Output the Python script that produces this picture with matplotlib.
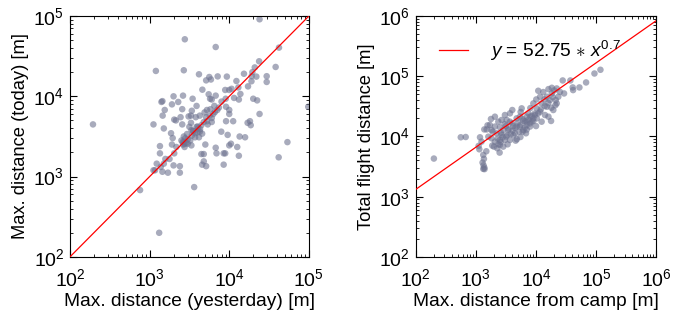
import matplotlib
matplotlib.use("Agg")
import matplotlib.pyplot as plt
import numpy as np

plt.rcParams['font.family'] = ['Liberation Sans', 'DejaVu Sans']
plt.rcParams['mathtext.fontset'] = 'custom'
plt.rcParams['mathtext.rm'] = 'Liberation Sans'
plt.rcParams['mathtext.it'] = 'Liberation Sans:italic'

# left panel: max distance yesterday vs today [m]
yesterday = [24000, 2770, 6760, 42100, 23700, 38200, 1200, 2690, 4170, 5620, 5130, 5890,
             7160, 9330, 12300, 15300, 19500, 20900, 19100, 21900, 29500, 19000, 17200,
             4600, 5520, 8900, 10700, 10000, 13000, 20000, 22400, 13800, 11500, 13200,
             9020, 5750, 6030, 6760, 2000, 2630, 3470, 1410, 1450, 1550, 1910, 2290, 3390,
             3890, 2570, 5250, 1460, 2040, 3090, 24000, 18200, 17000, 18600, 11200, 9120,
             7940, 9550, 13500, 15800, 10000, 10500, 12600, 13200, 6760, 6920, 8510, 8900,
             8510, 5010, 4470, 4790, 4790, 5130, 4570, 3630, 1120, 1510, 1860, 1950, 1910,
             2040, 2000, 2400, 2400, 1700, 1350, 1350, 1230, 1170, 1380, 1510, 1580, 1780,
             1120, 1450, 760, 195, 1320, 98000, 53700, 41700, 29500, 2140, 3160, 2570, 3310,
             3890, 4270, 2690, 2880, 3240, 2690, 2950, 3390, 3720, 4070, 4470, 4790, 5130,
             5690, 6310, 6610, 7080, 7410, 6030, 5250, 5370, 4570, 4170, 3350, 3020, 2750,
             2510, 3350, 3720, 3980, 2630, 9120, 10000, 10000, 2450, 2170,
             3310, 3800, 4270, 6030, 3550, 4900, 5800, 6500, 8000, 2800, 3000, 2600, 4000,
             4300, 3500, 2750]
today = [91000, 51300, 41100, 40400, 27300, 23200, 20700, 21100, 18800, 17400, 15800, 16200,
         17700, 17600, 15500, 19100, 20000, 22900, 17800, 17600, 17800, 15400, 13300,
         12100, 10600, 12000, 12400, 12000, 12900, 9330, 8900, 10700, 9550, 9120,
         9330, 9330, 9120, 10200, 10000, 10200, 9330, 8510, 8710, 6760, 7940, 8510, 6610,
         7590, 6920, 6760, 5750, 5130, 5620, 6030, 4900, 4680, 4370, 4900, 4900,
         3630, 3310, 3160, 3090, 2450, 2570, 2340, 1820, 2290, 1950, 1950, 1950,
         1410, 2510, 1910, 1910, 1550, 1350, 1410, 741, 4470, 3980, 3470, 3020, 2510,
         1950, 1380, 1350, 1120, 1120, 2400, 1950, 1450, 1200, 1320, 1450, 1660, 1660,
         1200, 1150, 680, 4470, 200, 7410, 2690, 1740, 15100, 5010, 4170, 4470, 4680,
         4170, 3630, 2690, 2630, 2820, 3160, 3390, 3240, 3470, 3980, 4370, 4790, 5500,
         5750, 6030, 6380, 6760, 7240, 5370, 4900, 4470, 3430, 3090, 2450, 2570, 2340,
         2820, 3800, 3090, 3550, 2510, 7410, 6760, 6030, 5500, 2340,
         5750, 5500, 5750, 4790, 3700, 6300, 6900, 7600, 8600, 3000, 2900, 2700, 4200,
         3900, 3700, 2550]

# right panel: max distance from camp vs total flight distance [m]
from_camp = [200, 676, 560, 1325, 1360, 1290, 1340, 1380, 1325, 1390, 1490, 1140, 1110,
             1240, 1170, 1380, 1560, 1780, 1995, 1870, 2480, 2580, 2680, 3370, 4580, 4030,
             5550, 8050, 10900, 10100, 13200, 16100, 18300, 20000, 22100, 27800, 37300,
             40800, 41400, 52700, 68100, 93800, 118000, 29300, 22100, 21300, 17800, 19400,
             15100, 13800, 10000, 9030, 8050, 6560, 5410, 4190, 3690, 3250, 2850, 2510,
             2210, 1900, 1610, 1820, 2070, 2360, 2780, 3330, 3690, 4470, 5280, 6150, 6990,
             7450, 9030, 10300, 11700, 8470, 4760, 5410, 6150, 4080, 3160, 2680, 2360, 2070,
             1820, 3040, 3460, 2510, 6990, 7940, 9620, 5770, 10900, 12400, 15100, 11700,
             17100, 18300, 23500, 16100, 14100, 12400, 10300, 3690, 3040, 2070, 1710, 1510,
             2850, 2510, 2270, 4760, 6810,
             3000, 3500, 4000, 4500, 5000, 5500, 6000, 6500, 7000, 7500, 8000, 9000, 2600,
             3200, 3800, 4200, 4800, 5500, 2300, 6000, 7000, 8500, 9500, 12000, 14000,
             16000, 19000, 25000, 21000, 18000]
total_flight = [4300, 9800, 9700, 4940, 4250, 3690, 3330, 3050, 2900, 2870, 5680, 6130, 6970,
                8220, 9690, 13100, 15300, 19500, 6790, 7050, 5400, 8110, 10600, 7410, 8530,
                27500, 25500, 29600, 57400, 41200, 54600, 61100, 64300, 58100, 62700, 85100,
                85100, 65200, 58900, 65200, 78900, 111000, 128000, 51800, 35400, 40200, 18100,
                27500, 31200, 41200, 14900, 20000, 21300, 17800, 14600, 14900, 17600, 18800,
                12800, 14200, 11300, 12000, 9930, 9330, 8210, 7410, 9690, 10600, 8750, 11300,
                12000, 12800, 15500, 24200, 35400, 29300, 25800, 17600, 20000, 21300, 18300,
                12500, 14900, 18800, 17600, 14600, 12800, 8750, 12800, 8750, 21300, 14600,
                22700, 29300, 24200, 35400, 45700, 45700, 40200, 51800, 45700, 21300, 22700,
                17600, 20000, 24200, 22700, 21300, 15500, 13100, 6790, 7240, 6370, 14600,
                11300,
                16000, 13500, 16500, 13800, 17000, 15500, 19500, 14000, 17500, 19000, 16500,
                18000, 11500, 10000, 11000, 10500, 9000, 9800, 9200, 12000, 13000, 22000,
                24000, 28000, 32000, 36000, 45000, 55000, 33000, 30000]

fit_a = 52.75
fit_b = 0.7

pt_color = '#6e7390'

fig = plt.figure(figsize=(6.85, 3.2), dpi=100)
ax1 = fig.add_axes([0.102, 0.197, 0.349, 0.753])
ax2 = fig.add_axes([0.607, 0.197, 0.351, 0.753])

ax1.scatter(yesterday, today, s=22, color=pt_color, alpha=0.6, edgecolors='none', zorder=2)
ax1.plot([1e2, 1e5], [1e2, 1e5], color='red', lw=0.9, zorder=3)
ax1.set_xscale('log')
ax1.set_yscale('log')
ax1.set_xlim(1e2, 1e5)
ax1.set_ylim(1e2, 1e5)
ax1.set_xlabel('Max. distance (yesterday) [m]', fontsize=13.8)
ax1.set_ylabel('Max. distance (today) [m]', fontsize=13.2)

ax2.scatter(from_camp, total_flight, s=22, color=pt_color, alpha=0.6, edgecolors='none', zorder=2)
xf = np.array([1e2, 1e6])
ax2.plot(xf, fit_a * xf ** fit_b, color='red', lw=0.9, zorder=3,
         label=r'$y$ = 52.75 $\ast$ $x^{0.7}$')
ax2.set_xscale('log')
ax2.set_yscale('log')
ax2.set_xlim(1e2, 1e6)
ax2.set_ylim(1e2, 1e6)
ax2.set_xlabel('Max. distance from camp [m]', fontsize=13.8)
ax2.set_ylabel('Total flight distance [m]', fontsize=13.2)
ax2.legend(loc='upper left', frameon=False, fontsize=13.8, handlelength=1.5,
           handletextpad=1.15, borderaxespad=0.8)

for ax in (ax1, ax2):
    ax.tick_params(which='both', direction='in', top=True, right=True, labelsize=14)
    ax.tick_params(which='major', length=5)
    ax.tick_params(which='minor', length=2.5)
    ax.tick_params(axis='x', which='major', pad=8)
    ax.tick_params(axis='y', which='major', pad=4)
    ax.xaxis.labelpad = 2
    ax.yaxis.labelpad = 3

fig.savefig('out.png', dpi=100)
